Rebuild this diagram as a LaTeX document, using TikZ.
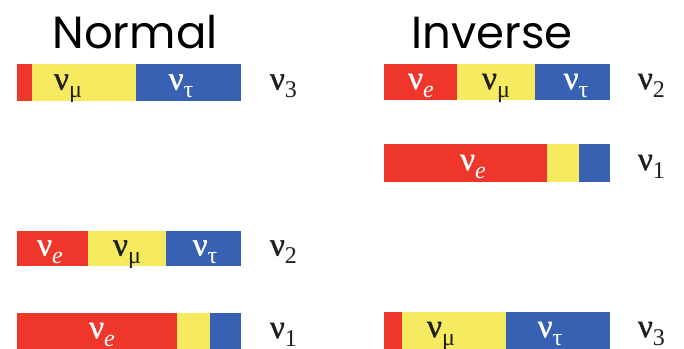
\documentclass[tikz,border=0pt]{standalone}
\usepackage{fontspec}
\setmainfont{Liberation Serif}
\newfontfamily\nufont[FakeBold=1.2]{Liberation Serif}
\newfontfamily\titlefont{Poppins}
\definecolor{nred}{RGB}{238,54,42}
\definecolor{nyel}{RGB}{245,234,96}
\definecolor{nblu}{RGB}{57,97,179}
\definecolor{ntxt}{RGB}{30,30,30}
\newcommand\nsub[1]{\raisebox{-8pt}{\fontsize{24}{24}\selectfont #1}}
\newcommand\nnu[1]{{\fontsize{33}{33}\selectfont{\nufont ν}\nsub{#1}}}
\begin{document}
\begin{tikzpicture}[x=1pt,y=-1pt,
  lbl/.style={anchor=base, inner sep=0pt, outer sep=0pt, text=#1},
  mass/.style={anchor=base west, inner sep=0pt, outer sep=0pt, text=ntxt},
  ttl/.style={anchor=base, inner sep=0pt, font=\titlefont\fontsize{45}{45}\selectfont}]
\useasboundingbox (0,0) rectangle (684,348);
\fill[white] (0,0) rectangle (684,348);
% titles
\node[ttl] (tn) at (135,48) {Normal};
\node[ttl] (ti) at (492,48) {Inverse};
% ---------- Normal ----------
% nu3
\fill[nred] (17,64) rectangle (32,101);
\fill[nyel] (32,64) rectangle (136,101);
\fill[nblu] (136,64) rectangle (241,101);
\node[lbl=ntxt] (n3m) at (68,89.5) {\nnu{μ}};
\node[lbl=white] (n3t) at (181,89.5) {\nnu{τ}};
\node[mass] (n3) at (270,89.5) {\nnu{3}};
% nu2
\fill[nred] (17,231) rectangle (88,266);
\fill[nyel] (88,231) rectangle (166,266);
\fill[nblu] (166,231) rectangle (241,266);
\node[lbl=white] (n2e) at (50,255.5) {\nnu{\itshape e}};
\node[lbl=ntxt] (n2m) at (127,255.5) {\nnu{μ}};
\node[lbl=white] (n2t) at (205,255.5) {\nnu{τ}};
\node[mass] (n2) at (270,255.5) {\nnu{2}};
% nu1
\fill[nred] (17,313) rectangle (177,349);
\fill[nyel] (177,313) rectangle (210,349);
\fill[nblu] (210,313) rectangle (241,349);
\node[lbl=white] (n1e) at (102,338) {\nnu{\itshape e}};
\node[mass] (n1) at (270,338) {\nnu{1}};
% ---------- Inverse ----------
% nu2
\fill[nred] (384,64) rectangle (457,100);
\fill[nyel] (457,64) rectangle (535,100);
\fill[nblu] (535,64) rectangle (610,100);
\node[lbl=white] (i2e) at (421,89) {\nnu{\itshape e}};
\node[lbl=ntxt] (i2m) at (496,89) {\nnu{μ}};
\node[lbl=white] (i2t) at (576,89) {\nnu{τ}};
\node[mass] (i2) at (638,89) {\nnu{2}};
% nu1
\fill[nred] (384,144) rectangle (547,182);
\fill[nyel] (547,144) rectangle (579,182);
\fill[nblu] (579,144) rectangle (610,182);
\node[lbl=white] (i1e) at (473,170) {\nnu{\itshape e}};
\node[mass] (i1) at (638,170) {\nnu{1}};
% nu3
\fill[nred] (384,312) rectangle (402,349);
\fill[nyel] (402,312) rectangle (506,349);
\fill[nblu] (506,312) rectangle (610,349);
\node[lbl=ntxt] (i3m) at (441,337) {\nnu{μ}};
\node[lbl=white] (i3t) at (550,337) {\nnu{τ}};
\node[mass] (i3) at (638,337) {\nnu{3}};
\end{tikzpicture}
\end{document}
